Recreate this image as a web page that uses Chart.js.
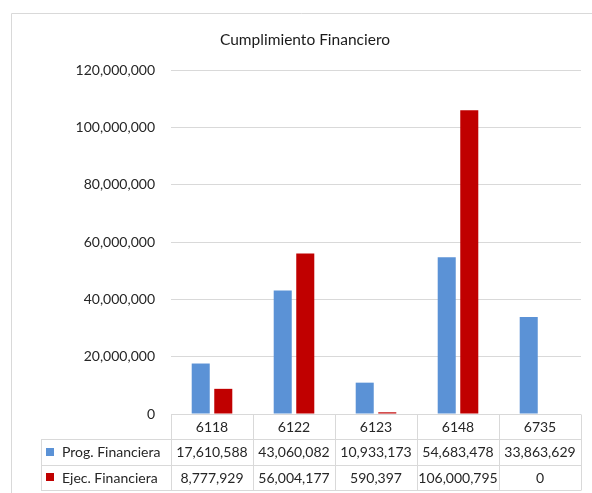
<!DOCTYPE html>
<html>
<head>
<meta charset="utf-8">
<title>Cumplimiento Financiero</title>
<script src="https://cdn.jsdelivr.net/npm/chart.js@4.4.0/dist/chart.umd.min.js"></script>
<style>
    html, body { margin: 0; padding: 0; background: #fff; }
    canvas { display: block; }
</style>
</head>
<body>
<canvas id="finChart" width="592" height="493"></canvas>
<script>
// Data
const categories = ['6118', '6122', '6123', '6148', '6735'];
const progFinanciera = [17610588, 43060082, 10933173, 54683478, 33863629];
const ejecFinanciera = [8777929, 56004177, 590397, 106000795, 0];
const seriesNames = ['Prog. Financiera', 'Ejec. Financiera'];
const seriesColors = ['#5b92d6', '#c00000'];
const yMax = 120000000;
const yStep = 20000000;

const FONT = 'Lato, "Open Sans", sans-serif';
const GRID = '#d9d9d9';
const TEXT = '#262626';

function fmt(v) {
    return v.toLocaleString('en-US');
}

// Frame + title
const framePlugin = {
    id: 'frame',
    beforeDraw(chart) {
        const ctx = chart.ctx;
        ctx.save();
        ctx.strokeStyle = GRID;
        ctx.lineWidth = 1;
        ctx.beginPath();
        ctx.moveTo(11.5, chart.height);
        ctx.lineTo(11.5, 13.5);
        ctx.lineTo(chart.width, 13.5);
        ctx.stroke();

        ctx.fillStyle = '#1a1a1a';
        ctx.font = '15.5px ' + FONT;
        ctx.textAlign = 'center';
        ctx.textBaseline = 'middle';
        ctx.fillText('Cumplimiento Financiero', 305, 40);
        ctx.restore();
    }
};

// Data table under the bars
const tablePlugin = {
    id: 'dataTable',
    afterDraw(chart) {
        const ctx = chart.ctx;
        const area = chart.chartArea;
        const colW = (area.right - area.left) / categories.length;
        const rowH = 25.3;
        const top = area.bottom;
        const legendLeft = 41;
        const px = v => Math.round(v) + 0.5;

        ctx.save();
        ctx.strokeStyle = GRID;
        ctx.lineWidth = 1;
        ctx.beginPath();
        // horizontal lines
        ctx.moveTo(area.left, px(top));
        ctx.lineTo(area.right, px(top));
        for (let r = 1; r <= 3; r++) {
            ctx.moveTo(legendLeft, px(top + r * rowH));
            ctx.lineTo(area.right, px(top + r * rowH));
        }
        // vertical lines
        ctx.moveTo(px(legendLeft), px(top + rowH));
        ctx.lineTo(px(legendLeft), px(top + 3 * rowH));
        for (let c = 0; c <= categories.length; c++) {
            const x = px(area.left + c * colW);
            ctx.moveTo(x, px(top));
            ctx.lineTo(x, px(top + 3 * rowH));
        }
        ctx.stroke();

        ctx.fillStyle = TEXT;
        ctx.font = '14px ' + FONT;
        ctx.textAlign = 'center';
        ctx.textBaseline = 'middle';
        categories.forEach((cat, i) => {
            const cx = area.left + (i + 0.5) * colW;
            ctx.fillText(cat, cx, top + rowH / 2 + 1);
            ctx.fillText(fmt(progFinanciera[i]), cx, top + rowH * 1.5 + 1);
            ctx.fillText(fmt(ejecFinanciera[i]), cx, top + rowH * 2.5 + 1);
        });

        // legend keys
        ctx.textAlign = 'left';
        seriesNames.forEach((name, i) => {
            const cy = top + rowH * (i + 1.5);
            ctx.fillStyle = seriesColors[i];
            ctx.fillRect(46, Math.round(cy - 4), 8, 8);
            ctx.fillStyle = TEXT;
            ctx.fillText(name, 62, cy + 1);
        });
        ctx.restore();
    }
};

new Chart(document.getElementById('finChart'), {
    type: 'bar',
    data: {
        labels: categories,
        datasets: [{
            label: seriesNames[0],
            data: progFinanciera,
            backgroundColor: seriesColors[0]
        }, {
            label: seriesNames[1],
            data: ejecFinanciera,
            backgroundColor: seriesColors[1]
        }]
    },
    options: {
        responsive: false,
        animation: false,
        categoryPercentage: 0.55,
        barPercentage: 0.8,
        layout: {
            padding: { left: 0, top: 70, right: 11, bottom: 79 }
        },
        plugins: {
            legend: { display: false },
            title: { display: false },
            tooltip: { enabled: false }
        },
        scales: {
            x: {
                display: false
            },
            y: {
                min: 0,
                max: yMax,
                border: { display: false },
                grid: { color: GRID, drawTicks: false },
                ticks: {
                    stepSize: yStep,
                    padding: 16,
                    color: TEXT,
                    font: { family: FONT, size: 14 },
                    callback: v => fmt(v)
                },
                afterFit(scale) {
                    scale.width = 171;
                }
            }
        }
    },
    plugins: [framePlugin, tablePlugin]
});
</script>
</body>
</html>
